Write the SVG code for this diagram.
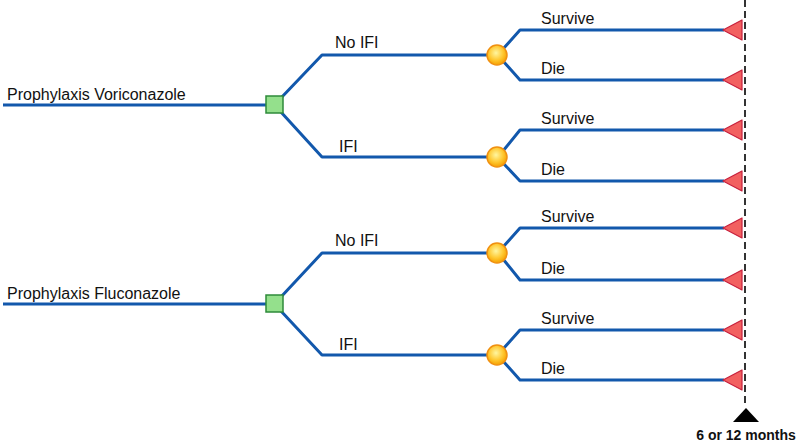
<svg xmlns="http://www.w3.org/2000/svg" width="800" height="444" viewBox="0 0 800 444">
<defs>
<radialGradient id="cg" cx="0.45" cy="0.4" r="0.6">
<stop offset="0" stop-color="#fff6a0"/>
<stop offset="0.6" stop-color="#ffc830"/>
<stop offset="1" stop-color="#f5a000"/>
</radialGradient>
<g id="tri"><polygon points="0,0 19,-10 19,10" fill="#f26060" stroke="#c8203c" stroke-width="1.2" stroke-linejoin="round"/></g>
</defs>
<style>
.ln{fill:none;stroke:#1258ac;stroke-width:3;stroke-linejoin:round}
.t{font-family:"Liberation Sans",Arial,sans-serif;font-size:16px;fill:#111}
.sq{fill:#94e08c;stroke:#2e8a3a;stroke-width:1.5}
.ci{fill:url(#cg);stroke:#f09010;stroke-width:1.5}
</style>
<rect width="800" height="444" fill="#fff"/>
<g id="connectors">
<path class="ln" d="M3,105 H268 M280,99 L322,55 H490 M280,111 L322,157 H490"/>
<path class="ln" d="M503,49 L520,30 H724 M503,61 L520,80 H724"/>
<path class="ln" d="M503,151 L520,130 H724 M503,163 L520,181 H724"/>
<path class="ln" d="M3,304 H268 M280,298 L322,253 H490 M280,310 L322,355 H490"/>
<path class="ln" d="M503,247 L520,228 H724 M503,259 L520,280 H724"/>
<path class="ln" d="M503,349 L520,330 H724 M503,361 L520,380 H724"/>
<line x1="745" y1="0" x2="745" y2="406" stroke="#333" stroke-width="2" stroke-dasharray="7,4"/>
</g>
<g id="d1"><rect class="sq" x="266" y="96" width="17" height="17"/><text class="t" x="7" y="100">Prophylaxis Voriconazole</text></g>
<g id="d2"><rect class="sq" x="266" y="295" width="17" height="17"/><text class="t" x="7" y="299">Prophylaxis Fluconazole</text></g>
<g id="c1"><circle class="ci" cx="497" cy="55" r="10"/><text class="t" x="335" y="48">No IFI</text></g>
<g id="c2"><circle class="ci" cx="497" cy="157" r="10"/><text class="t" x="339" y="152">IFI</text></g>
<g id="c3"><circle class="ci" cx="497" cy="253" r="10"/><text class="t" x="335" y="246">No IFI</text></g>
<g id="c4"><circle class="ci" cx="497" cy="355" r="10"/><text class="t" x="339" y="350">IFI</text></g>
<g id="o1"><use href="#tri" x="723" y="30"/><text class="t" x="541" y="24">Survive</text></g>
<g id="o2"><use href="#tri" x="723" y="80"/><text class="t" x="541" y="74">Die</text></g>
<g id="o3"><use href="#tri" x="723" y="130"/><text class="t" x="541" y="124">Survive</text></g>
<g id="o4"><use href="#tri" x="723" y="181"/><text class="t" x="541" y="175">Die</text></g>
<g id="o5"><use href="#tri" x="723" y="228"/><text class="t" x="541" y="222">Survive</text></g>
<g id="o6"><use href="#tri" x="723" y="280"/><text class="t" x="541" y="274">Die</text></g>
<g id="o7"><use href="#tri" x="723" y="330"/><text class="t" x="541" y="324">Survive</text></g>
<g id="o8"><use href="#tri" x="723" y="380"/><text class="t" x="541" y="374">Die</text></g>
<g id="time"><polygon points="746,408 759,422 733,422" fill="#000"/><text x="746" y="440" text-anchor="middle" font-family="'Liberation Sans',Arial,sans-serif" font-size="14" font-weight="bold" fill="#111">6 or 12 months</text></g>
</svg>
